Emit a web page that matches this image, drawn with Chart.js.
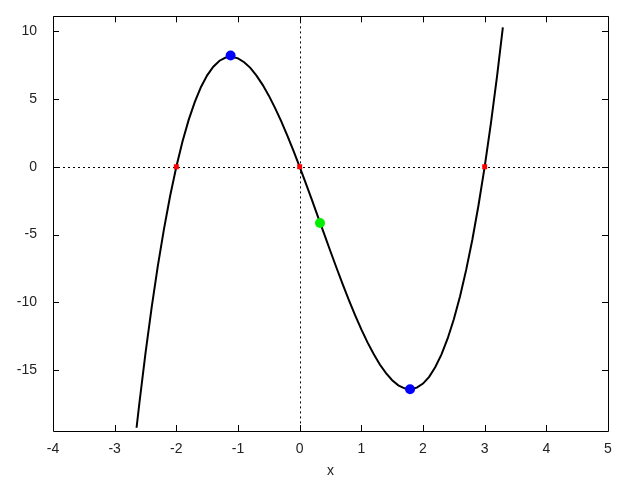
<!DOCTYPE html>
<html>
<head>
<meta charset="utf-8">
<script src="https://cdn.jsdelivr.net/npm/chart.js@4/dist/chart.umd.min.js"></script>
<style>
  html, body { margin: 0; padding: 0; background: #fff; }
  #wrap { width: 640px; height: 480px; }
</style>
</head>
<body>
<div id="wrap"><canvas id="plot"></canvas></div>
<script>
// curve samples
const curveX = [-2.645, -2.6, -2.5, -2.4, -2.3, -2.2, -2.1, -2.0, -1.9, -1.8, -1.7, -1.6, -1.5, -1.4, -1.3, -1.2, -1.1, -1.0,
  -0.9, -0.8, -0.7, -0.6, -0.5, -0.4, -0.3, -0.2, -0.1, 0, 0.1, 0.2, 0.3, 0.4, 0.5, 0.6, 0.7, 0.8, 0.9, 1.0,
  1.1, 1.2, 1.3, 1.4, 1.5, 1.6, 1.7, 1.8, 1.9, 2.0, 2.1, 2.2, 2.3, 2.4, 2.5, 2.6, 2.7, 2.8, 2.9, 3.0, 3.1, 3.2, 3.295];
const curveY = [-19.26, -17.47, -13.75, -10.37, -7.31, -4.58, -2.14, 0, 1.86, 3.46, 4.79, 5.89, 6.75, 7.39, 7.83, 8.06, 8.12, 8.0,
  7.72, 7.30, 6.73, 6.05, 5.25, 4.35, 3.37, 2.30, 1.18, 0, -1.22, -2.46, -3.73, -4.99, -6.25, -7.49, -8.69, -9.86, -10.96, -12.0,
  -12.96, -13.82, -14.59, -15.23, -15.75, -16.13, -16.35, -16.42, -16.30, -16.0, -15.50, -14.78, -13.85, -12.67, -11.25, -9.57, -7.61, -5.38, -2.84, 0, 3.16, 6.66, 10.29];

const rootX = [-2, 0, 3];
const rootY = [0, 0, 0];
const extremaX = [-1.12, 1.79];
const extremaY = [8.21, -16.42];
const inflX = [0.33];
const inflY = [-4.15];

const xTicks = [-4, -3, -2, -1, 0, 1, 2, 3, 4, 5];
const yTicks = [-15, -10, -5, 0, 5, 10];

const toPts = (xs, ys) => xs.map((x, i) => ({ x: x, y: ys[i] }));

// gnuplot-like frame: border box, inward ticks, dotted zero axes
const framePlugin = {
  id: "frame",
  beforeDatasetsDraw(chart) {
    const { ctx, chartArea: a, scales } = chart;
    const x0 = scales.x.getPixelForValue(0);
    const y0 = scales.y.getPixelForValue(0);
    ctx.save();
    ctx.strokeStyle = "#000";
    ctx.lineWidth = 1;
    ctx.setLineDash([2, 3]);
    ctx.beginPath();
    ctx.moveTo(a.left, Math.round(y0) + 0.5);
    ctx.lineTo(a.right, Math.round(y0) + 0.5);
    ctx.moveTo(Math.round(x0) + 0.5, a.top);
    ctx.lineTo(Math.round(x0) + 0.5, a.bottom);
    ctx.stroke();
    ctx.restore();
  },
  afterDraw(chart) {
    const { ctx, chartArea: a, scales } = chart;
    const len = 6;
    ctx.save();
    ctx.strokeStyle = "#000";
    ctx.lineWidth = 1;
    ctx.setLineDash([]);
    ctx.beginPath();
    ctx.rect(Math.round(a.left) + 0.5, Math.round(a.top) + 0.5,
      Math.round(a.right - a.left), Math.round(a.bottom - a.top));
    xTicks.forEach((v) => {
      const px = Math.round(scales.x.getPixelForValue(v)) + 0.5;
      ctx.moveTo(px, a.bottom);
      ctx.lineTo(px, a.bottom - len);
      ctx.moveTo(px, a.top);
      ctx.lineTo(px, a.top + len);
    });
    yTicks.forEach((v) => {
      const py = Math.round(scales.y.getPixelForValue(v)) + 0.5;
      ctx.moveTo(a.left, py);
      ctx.lineTo(a.left + len, py);
      ctx.moveTo(a.right, py);
      ctx.lineTo(a.right - len, py);
    });
    ctx.stroke();
    ctx.restore();
  },
};

new Chart(document.getElementById("plot"), {
  type: "scatter",
  data: {
    datasets: [
      {
        label: "f(x)",
        data: toPts(curveX, curveY),
        showLine: true,
        borderColor: "#000",
        borderWidth: 2,
        pointRadius: 0,
        tension: 0,
        order: 3,
      },
      {
        label: "roots",
        data: toPts(rootX, rootY),
        pointStyle: "rect",
        pointRadius: 3.5,
        backgroundColor: "#ff0000",
        borderColor: "#ff0000",
        borderWidth: 0,
        order: 1,
      },
      {
        label: "extrema",
        data: toPts(extremaX, extremaY),
        pointStyle: "circle",
        pointRadius: 5,
        backgroundColor: "#0000ff",
        borderColor: "#0000ff",
        borderWidth: 0,
        order: 1,
      },
      {
        label: "inflection",
        data: toPts(inflX, inflY),
        pointStyle: "circle",
        pointRadius: 5,
        backgroundColor: "#00ee00",
        borderColor: "#00ee00",
        borderWidth: 0,
        order: 1,
      },
    ],
  },
  options: {
    responsive: true,
    maintainAspectRatio: false,
    animation: false,
    layout: {
      padding: { top: 15, right: 32, left: 0, bottom: 0 },
    },
    plugins: {
      legend: { display: false },
      tooltip: { enabled: false },
    },
    scales: {
      x: {
        type: "linear",
        min: -4,
        max: 5,
        afterBuildTicks: (axis) => {
          axis.ticks = xTicks.map((v) => ({ value: v }));
        },
        afterFit: (axis) => {
          axis.height = 49;
        },
        grid: { display: false },
        border: { display: false },
        ticks: {
          color: "#222",
          font: { family: "Liberation Sans, Arial, sans-serif", size: 14 },
          padding: 2,
          maxRotation: 0,
        },
        title: {
          display: true,
          text: "x",
          color: "#222",
          font: { family: "Liberation Sans, Arial, sans-serif", size: 14 },
          padding: { top: 0, bottom: 0 },
        },
      },
      y: {
        type: "linear",
        min: -19.5,
        max: 11.1,
        afterBuildTicks: (axis) => {
          axis.ticks = yTicks.map((v) => ({ value: v }));
        },
        afterFit: (axis) => {
          axis.width = 53;
        },
        grid: { display: false },
        border: { display: false },
        ticks: {
          color: "#222",
          font: { family: "Liberation Sans, Arial, sans-serif", size: 14 },
          padding: 8,
        },
      },
    },
  },
  plugins: [framePlugin],
});
</script>
</body>
</html>
